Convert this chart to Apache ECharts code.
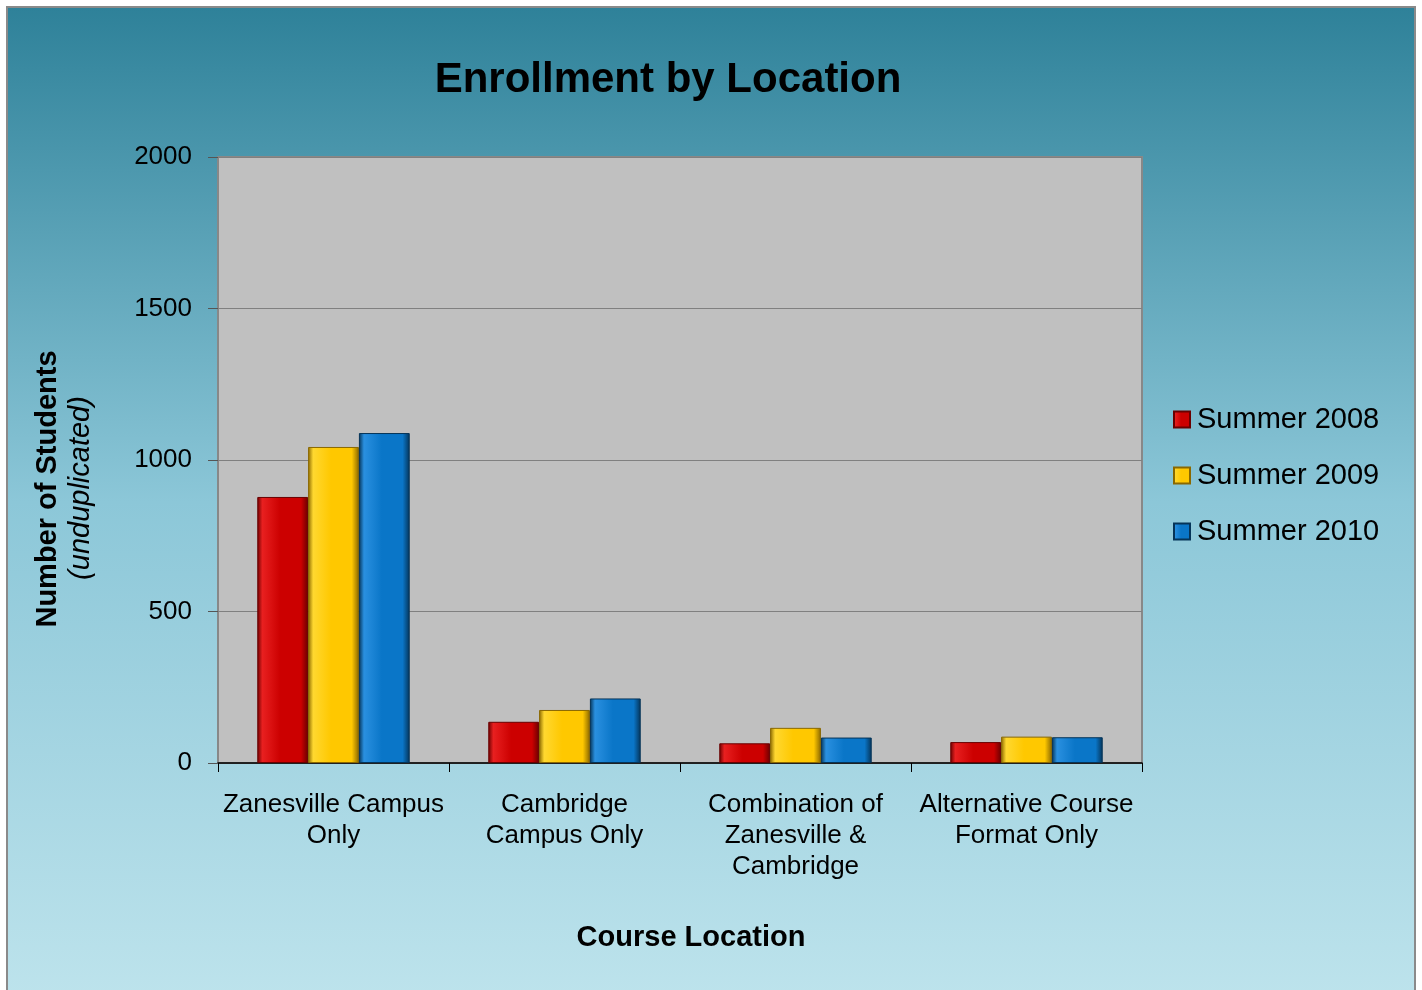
<!DOCTYPE html>
<html>
<head>
<meta charset="utf-8">
<title>Enrollment by Location</title>
<script src="https://cdn.jsdelivr.net/npm/echarts@6/dist/echarts.min.js"></script>
<style>
    html, body { margin: 0; padding: 0; background: #fff; }
    #chart { width: 1422px; height: 990px; }
</style>
</head>
<body>
<div id="chart"></div>
<script>
// data
const categories = [
    'Zanesville Campus\nOnly',
    'Cambridge\nCampus Only',
    'Combination of\nZanesville &\nCambridge',
    'Alternative Course\nFormat Only'
];
const seriesNames = ['Summer 2008', 'Summer 2009', 'Summer 2010'];
const summer2008 = [878, 136, 65, 69];
const summer2009 = [1043, 175, 116, 87];
const summer2010 = [1089, 213, 84, 85];
const yTicks = [0, 500, 1000, 1500, 2000];

const chart = echarts.init(document.getElementById('chart'));

// bevel-ish look for the bars
function barFill(base, light, dark) {
    return new echarts.graphic.LinearGradient(0, 0, 1, 0, [
        { offset: 0, color: dark },
        { offset: 0.1, color: light },
        { offset: 0.45, color: base },
        { offset: 0.86, color: base },
        { offset: 1, color: dark }
    ]);
}

const palette = [
    ['#cc0000', '#e82020', '#6a0000'],
    ['#ffc800', '#ffd830', '#8a6800'],
    ['#0a76c8', '#2a90e0', '#053458']
];
const values = [summer2008, summer2009, summer2010];

const series = seriesNames.map((name, i) => ({
    name: name,
    type: 'bar',
    data: values[i],
    barGap: '0%',
    barCategoryGap: '34%',
    itemStyle: {
        color: barFill(palette[i][0], palette[i][1], palette[i][2]),
        borderColor: palette[i][2],
        borderWidth: 1
    }
}));

const option = {
    backgroundColor: '#ffffff',
    animation: false,
    textStyle: { fontFamily: 'Liberation Sans, Arial, sans-serif', color: '#000' },
    graphic: [
        {
            type: 'rect',
            z: -10,
            shape: { x: 7, y: 7, width: 1408, height: 990 },
            style: {
                fill: new echarts.graphic.LinearGradient(0, 0, 0, 1, [
                    { offset: 0, color: '#2e8199' },
                    { offset: 0.5, color: '#8cc7d8' },
                    { offset: 1, color: '#bde3ec' }
                ]),
                stroke: '#8a8a8a',
                lineWidth: 2
            }
        },
        {
            type: 'rect',
            z: -5,
            shape: { x: 218, y: 157, width: 924, height: 606 },
            style: { fill: '#c0c0c0', stroke: '#888888', lineWidth: 2 }
        },
        {
            type: 'text',
            x: 48, y: 489,
            rotation: Math.PI / 2,
            style: {
                text: 'Number of Students',
                font: 'bold 29px "Liberation Sans", Arial, sans-serif',
                fill: '#000',
                align: 'center',
                verticalAlign: 'middle'
            }
        },
        {
            type: 'text',
            x: 81, y: 488,
            rotation: Math.PI / 2,
            style: {
                text: '(unduplicated)',
                font: 'italic 29px "Liberation Sans", Arial, sans-serif',
                fill: '#000',
                align: 'center',
                verticalAlign: 'middle'
            }
        },
        {
            type: 'text',
            x: 691, y: 938,
            style: {
                text: 'Course Location',
                font: 'bold 29px "Liberation Sans", Arial, sans-serif',
                fill: '#000',
                align: 'center',
                verticalAlign: 'middle'
            }
        }
    ],
    title: {
        text: 'Enrollment by Location',
        left: 663,
        top: 54,
        textAlign: 'center',
        textStyle: { fontSize: 42, fontWeight: 'bold', color: '#000' }
    },
    legend: {
        orient: 'vertical',
        left: 1173,
        top: 405,
        padding: 0,
        itemWidth: 16,
        itemHeight: 16,
        itemGap: 27,
        icon: 'rect',
        data: seriesNames,
        textStyle: { fontSize: 29, color: '#000', padding: [0, 0, 0, 2] }
    },
    grid: { left: 218, right: 280, top: 157, bottom: 227 },
    xAxis: {
        type: 'category',
        data: categories,
        axisLine: { lineStyle: { color: '#000', width: 1.5 } },
        axisTick: { show: true, length: 9, lineStyle: { color: '#000' } },
        axisLabel: { fontSize: 26, color: '#000', lineHeight: 31, margin: 26, interval: 0 }
    },
    yAxis: {
        type: 'value',
        min: yTicks[0],
        max: yTicks[yTicks.length - 1],
        interval: 500,
        axisLine: { show: false },
        axisTick: { show: true, length: 10, lineStyle: { color: '#555' } },
        axisLabel: { fontSize: 26, color: '#000', margin: 26, formatter: v => String(v) },
        splitLine: { lineStyle: { color: '#808080', width: 1 } }
    },
    series: series
};

chart.setOption(option);
</script>
</body>
</html>
